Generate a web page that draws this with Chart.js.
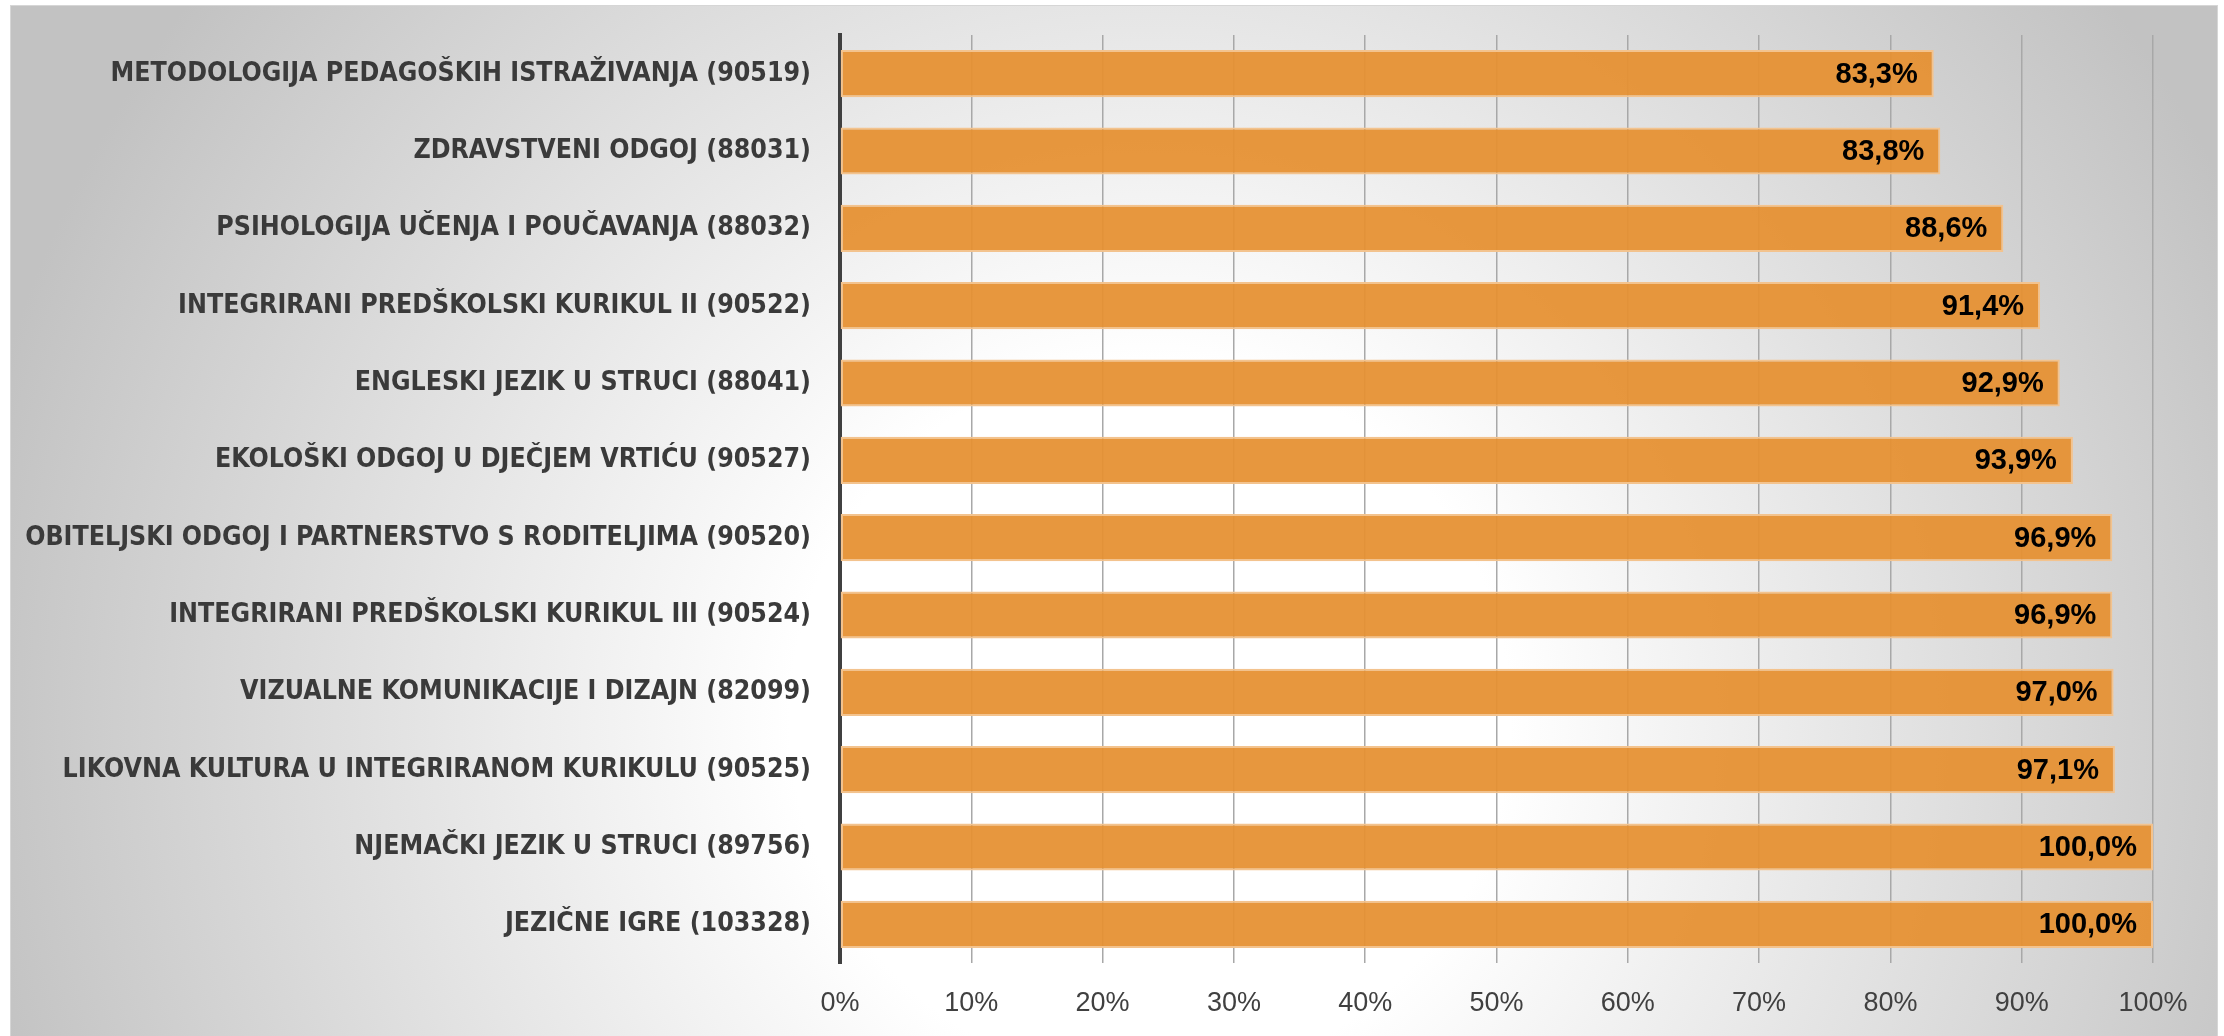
<!DOCTYPE html>
<html>
<head>
<meta charset="utf-8">
<script src="https://cdn.jsdelivr.net/npm/chart.js@4.4.0/dist/chart.umd.min.js"></script>
<style>
  html, body { margin: 0; padding: 0; background: #ffffff; }
  #wrap { position: relative; width: 2224px; height: 1036px; }
  canvas { display: block; }
</style>
</head>
<body>
<div id="wrap"><canvas id="c" width="2224" height="1036"></canvas></div>
<script>
const categories = [
  "METODOLOGIJA PEDAGOŠKIH ISTRAŽIVANJA (90519)",
  "ZDRAVSTVENI ODGOJ (88031)",
  "PSIHOLOGIJA UČENJA I POUČAVANJA (88032)",
  "INTEGRIRANI PREDŠKOLSKI KURIKUL II (90522)",
  "ENGLESKI JEZIK U STRUCI (88041)",
  "EKOLOŠKI ODGOJ U DJEČJEM VRTIĆU (90527)",
  "OBITELJSKI ODGOJ I PARTNERSTVO S RODITELJIMA (90520)",
  "INTEGRIRANI PREDŠKOLSKI KURIKUL III (90524)",
  "VIZUALNE KOMUNIKACIJE I DIZAJN (82099)",
  "LIKOVNA KULTURA U INTEGRIRANOM KURIKULU (90525)",
  "NJEMAČKI JEZIK U STRUCI (89756)",
  "JEZIČNE IGRE (103328)"
];
const values = [83.3, 83.8, 88.6, 91.4, 92.9, 93.9, 96.9, 96.9, 97.0, 97.1, 100.0, 100.0];
const xTicks = [0, 10, 20, 30, 40, 50, 60, 70, 80, 90, 100];

const LABEL_FONT = "'DejaVu Sans Condensed', 'Liberation Sans', sans-serif";
const TEXT_FONT = "'Liberation Sans', Arial, sans-serif";

const bgPlugin = {
  id: 'panelBg',
  beforeDraw(chart) {
    const ctx = chart.ctx;
    const x0 = 10, y0 = 5, w = chart.width - 16, h = chart.height - 5;
    ctx.save();
    ctx.fillStyle = '#ffffff';
    ctx.fillRect(0, 0, chart.width, chart.height);
    const g = ctx.createRadialGradient(1150, 720, 0, 1150, 720, 1200);
    g.addColorStop(0, '#ffffff');
    g.addColorStop(0.3, '#ffffff');
    g.addColorStop(1, '#c2c2c2');
    ctx.fillStyle = g;
    ctx.fillRect(x0, y0, w, h);
    ctx.strokeStyle = '#d6d6d6';
    ctx.lineWidth = 1;
    ctx.strokeRect(x0 + 0.5, y0 + 0.5, w - 1, h);
    ctx.restore();
  }
};

const valueLabels = {
  id: 'valueLabels',
  afterDatasetsDraw(chart) {
    const ctx = chart.ctx;
    const meta = chart.getDatasetMeta(0);
    ctx.save();
    ctx.font = "bold 29px " + TEXT_FONT;
    ctx.fillStyle = '#000000';
    ctx.textAlign = 'right';
    ctx.textBaseline = 'middle';
    meta.data.forEach((bar, i) => {
      const txt = values[i].toFixed(1).replace('.', ',') + '%';
      ctx.fillText(txt, bar.x - 16, bar.y + 1);
    });
    ctx.restore();
  }
};

new Chart(document.getElementById('c'), {
  type: 'bar',
  data: {
    labels: categories,
    datasets: [{
      data: values,
      backgroundColor: 'rgba(229,144,50,0.94)',
      borderColor: '#f3c38e',
      borderWidth: 2,
      borderSkipped: false,
      categoryPercentage: 1.0,
      barPercentage: 0.61
    }]
  },
  options: {
    indexAxis: 'y',
    responsive: false,
    animation: false,
    devicePixelRatio: 1,
    layout: { padding: { top: 35, right: 71, bottom: 0, left: 0 } },
    plugins: {
      legend: { display: false },
      tooltip: { enabled: false },
      title: { display: false }
    },
    scales: {
      x: {
        min: 0,
        max: 100,
        afterBuildTicks(scale) { scale.ticks = xTicks.map(v => ({ value: v })); },
        afterFit(scale) { scale.height = 73; scale.paddingLeft = 0; scale.paddingRight = 0; },
        grid: { color: '#a8a8a8', lineWidth: 1.5, drawTicks: false },
        border: { display: false },
        ticks: {
          padding: 24,
          color: '#404040',
          font: { family: TEXT_FONT, size: 27 },
          callback: (v) => v + '%'
        }
      },
      y: {
        afterFit(scale) { scale.width = 840; scale.paddingTop = 0; scale.paddingBottom = 0; },
        grid: { display: false, drawTicks: false },
        border: { display: true, color: '#404040', width: 4 },
        ticks: {
          padding: 29,
          color: '#3a3a3a',
          font: { family: LABEL_FONT, size: 26.5, weight: 'bold' }
        }
      }
    }
  },
  plugins: [bgPlugin, valueLabels]
});
</script>
</body>
</html>
